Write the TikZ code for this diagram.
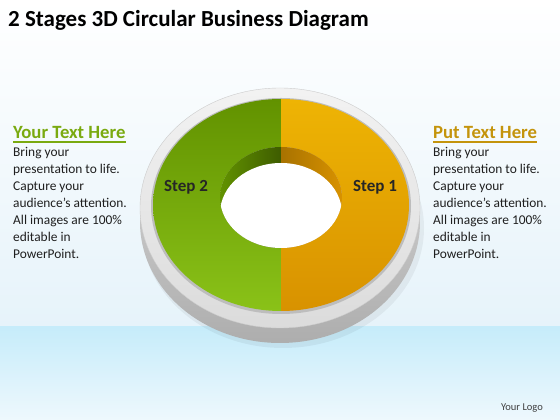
\documentclass[tikz,border=0pt]{standalone}
\usepackage{fontspec}
\setmainfont{Carlito}
\usepackage{xcolor}
\usetikzlibrary{calc}

\definecolor{headgreen}{RGB}{122,170,16}
\definecolor{headgold}{RGB}{196,148,12}
\definecolor{skyfade}{RGB}{230,243,250}
\definecolor{skyband}{RGB}{198,236,250}
\definecolor{skylow}{RGB}{238,248,253}
\definecolor{greenD}{RGB}{98,146,0}
\definecolor{greenL}{RGB}{138,194,24}
\definecolor{orangeT}{RGB}{238,180,4}
\definecolor{orangeB}{RGB}{216,146,0}
\definecolor{wallgreen}{RGB}{62,92,0}
\definecolor{wallorange}{RGB}{168,114,0}

\tikzset{
  titletext/.style={inner sep=0, font=\fontsize{23}{27}\selectfont\bfseries},
  headtext/.style={inner sep=0, font=\fontsize{18.7}{22}\selectfont\bfseries},
  bodytext/.style={inner sep=0, text=black!88, font=\fontsize{13.4}{16}\selectfont},
  steplabel/.style={inner sep=0, text=black!85, font=\fontsize{17}{20}\selectfont\bfseries},
  logotext/.style={inner sep=0, text=black!75, font=\fontsize{10.5}{12}\selectfont}
}

\begin{document}
\begin{tikzpicture}[x=1pt,y=1pt]
			\def\cx{281};
			\def\cy{215};
			\def\rx{128};
			\def\ry{106};
			\def\hx{61};
			\def\hy{50.5};
			\def\hole{222.5};

			\useasboundingbox (0,0) rectangle (560,420);

			% background
			\begin{scope}
				\shade[top color=white, bottom color=skyfade] (0,93) rectangle (560,420);
				\shade[top color=skyband, bottom color=skylow] (0,0) rectangle (560,93);
			\end{scope}

			% grey rim
			\begin{scope}
				\fill[black, opacity=0.05] (283,192) ellipse [x radius=141, y radius=120];
				\shade[top color=black!14, bottom color=black!32] (280,198) ellipse [x radius=140, y radius=121];
				\shade[top color=black!5, bottom color=black!14, draw=black!20] (280,212) ellipse [x radius=140, y radius=120];
				\fill[black!26] (\cx,\cy-1) ellipse [x radius=\rx+2, y radius=\ry+2];
			\end{scope}

			% coloured halves
			\begin{scope}
				\shade[top color=greenD, bottom color=greenL]
					(\cx,\cy+\ry) arc [start angle=90, end angle=270, x radius=\rx, y radius=\ry]
					-- (\cx,\hole-\hy) arc [start angle=270, end angle=90, x radius=\hx, y radius=\hy] -- cycle;
				\shade[top color=orangeT, bottom color=orangeB]
					(\cx,\cy+\ry) arc [start angle=90, end angle=-90, x radius=\rx, y radius=\ry]
					-- (\cx,\hole-\hy) arc [start angle=-90, end angle=90, x radius=\hx, y radius=\hy] -- cycle;
			\end{scope}

			% hole and inner wall
			\begin{scope}
				\clip (\cx,\hole) ellipse [x radius=\hx, y radius=\hy];
				\shade[left color=greenD, right color=wallgreen] (\cx-\hx,\hole-\hy) rectangle (\cx,\hole+\hy);
				\shade[left color=wallorange, right color=orangeB] (\cx,\hole-\hy) rectangle (\cx+\hx,\hole+\hy);
				\fill[white] (\cx,\hole-16) ellipse [x radius=\hx, y radius=\hy];
			\end{scope}

			% texts
			\node[titletext, anchor=base west] (title) at (8,393) {2 Stages 3D Circular Business Diagram};

			\node[steplabel] (step2) at (186,233) {Step 2};
			\node[steplabel] (step1) at (375,233) {Step 1};

			\foreach \side/\xx/\hd/\col in {left/13/Your Text Here/headgreen, right/433/Put Text Here/headgold}
			{
				\node[headtext, text=\col, anchor=base west] (\side head) at (\xx,281) {\hd};
				\draw[\col, line width=1.3] ([yshift=-3]\side head.base west) -- ([yshift=-3]\side head.base east);

				\foreach \ln [count=\i] in {Bring your, presentation to life., Capture your, audience’s attention., All images are 100\%, editable in, PowerPoint.}
				{
					\node[bodytext, anchor=base west] (\side line\i) at (\xx,263-16.9*\i+16.9) {\ln};
				}
			}

			\node[logotext] (logo) at (522,12) {Your Logo};
\end{tikzpicture}
\end{document}
